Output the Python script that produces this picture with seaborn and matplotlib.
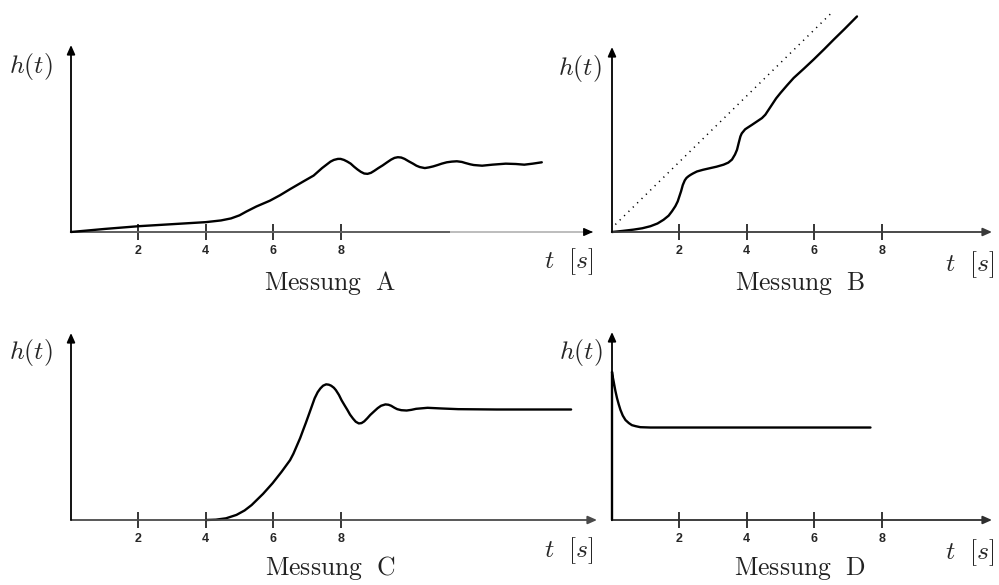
import matplotlib
matplotlib.use("Agg")
import matplotlib.pyplot as plt
import seaborn as sns
import pandas as pd

# ---------------- data ----------------
tick_values = [2, 4, 6, 8]
tick_labels = ["2", "4", "6", "8"]
panel_titles = ["Messung  A", "Messung  B", "Messung  C", "Messung  D"]

a_t = [0.0, 1.0, 2.0, 3.0, 4.0, 4.45, 4.75, 5.0, 5.2, 5.5, 5.9, 6.2, 6.5, 6.9, 7.2,
       7.45, 7.7, 7.8, 7.92, 8.0, 8.1, 8.2, 8.3, 8.4, 8.5, 8.6, 8.7, 8.8, 8.9, 9.0,
       9.12, 9.25, 9.38, 9.5, 9.6, 9.7, 9.8, 9.9, 10.02, 10.15, 10.25, 10.35, 10.5,
       10.62, 10.75, 10.88, 11.0, 11.15, 11.3, 11.45, 11.6, 11.7, 11.85, 11.95, 12.2,
       12.5, 12.9, 13.2, 13.45, 13.7, 13.97]
a_h = [0.00, 0.09, 0.17, 0.23, 0.29, 0.34, 0.40, 0.49, 0.60, 0.75, 0.92, 1.08, 1.26,
       1.49, 1.66, 1.88, 2.07, 2.12, 2.15, 2.15, 2.12, 2.07, 2.01, 1.92, 1.84, 1.77,
       1.72, 1.71, 1.74, 1.80, 1.88, 1.96, 2.05, 2.13, 2.18, 2.20, 2.19, 2.15, 2.08,
       2.01, 1.95, 1.91, 1.88, 1.90, 1.93, 1.97, 2.01, 2.05, 2.07, 2.08, 2.06, 2.03,
       1.99, 1.97, 1.95, 1.98, 2.01, 2.00, 1.98, 2.01, 2.05]

b_t = [0.0, 0.3, 0.64, 0.9, 1.14, 1.35, 1.53, 1.68, 1.78, 1.88, 1.95, 2.0, 2.05, 2.1,
       2.16, 2.21, 2.27, 2.33, 2.4, 2.52, 2.7, 2.92, 3.1, 3.31, 3.45, 3.56, 3.65, 3.71,
       3.76, 3.81, 3.85, 3.9, 3.95, 4.01, 4.15, 4.30, 4.45, 4.55, 4.65, 4.75, 4.87,
       5.0, 5.2, 5.39, 5.7, 5.98, 6.3, 6.58, 6.9, 7.27]
b_h = [0.00, 0.03, 0.07, 0.11, 0.17, 0.25, 0.36, 0.48, 0.61, 0.76, 0.90, 1.05, 1.20,
       1.38, 1.52, 1.59, 1.64, 1.68, 1.72, 1.78, 1.83, 1.88, 1.92, 1.98, 2.04, 2.13,
       2.28, 2.42, 2.62, 2.81, 2.90, 2.96, 3.02, 3.06, 3.15, 3.25, 3.35, 3.45, 3.60,
       3.75, 3.93, 4.09, 4.32, 4.53, 4.81, 5.07, 5.38, 5.66, 5.97, 6.34]
b_ref_t = [0.10, 6.53]
b_ref_h = [0.22, 6.46]

c_t = [4.0, 4.3, 4.6, 4.91, 5.15, 5.36, 5.7, 5.98, 6.25, 6.5, 6.6, 6.7, 6.8, 6.89,
       6.97, 7.05, 7.14, 7.23, 7.32, 7.4, 7.48, 7.57, 7.65, 7.72, 7.8, 7.86, 7.95,
       8.03, 8.12, 8.2, 8.28, 8.37, 8.45, 8.54, 8.62, 8.7, 8.79, 8.88, 9.0, 9.1, 9.2,
       9.33, 9.42, 9.5, 9.6, 9.68, 9.8, 9.96, 10.1, 10.24, 10.58, 11.0, 11.49, 12.63,
       14.84]
c_h = [0.00, 0.01, 0.05, 0.15, 0.28, 0.44, 0.77, 1.08, 1.42, 1.76, 1.95, 2.18, 2.41,
       2.65, 2.86, 3.08, 3.33, 3.58, 3.76, 3.87, 3.95, 3.99, 3.98, 3.95, 3.89, 3.82,
       3.68, 3.52, 3.37, 3.24, 3.10, 2.98, 2.89, 2.84, 2.85, 2.90, 2.99, 3.09, 3.20,
       3.29, 3.36, 3.40, 3.39, 3.36, 3.30, 3.26, 3.23, 3.22, 3.24, 3.27, 3.30, 3.28,
       3.26, 3.25, 3.25]

d_t = [0.0, 0.0, 0.02, 0.05, 0.07, 0.1, 0.15, 0.2, 0.25, 0.32, 0.40, 0.5, 0.59, 0.7,
       0.84, 1.14, 7.67]
d_h = [0.00, 4.36, 4.22, 4.07, 3.96, 3.80, 3.58, 3.40, 3.24, 3.07, 2.94, 2.85, 2.79,
       2.76, 2.73, 2.72, 2.72]

# ---------------- styling / layout ----------------
sns.set_theme(style="white")
plt.rcParams["mathtext.fontset"] = "cm"
plt.rcParams["font.family"] = ["DejaVu Sans"]

W, H = 999, 585
fig = plt.figure(figsize=(W / 100, H / 100), dpi=100)
fig.patch.set_facecolor("white")

PXU_X = 33.7
PXU_Y = 34.0

# (x_left, x_right, y_top, y_axis) in pixels
boxes = [(71, 593, 45, 232), (612, 992, 47, 232), (71, 597, 333, 520), (612, 992, 332, 520)]
xaxis_colors = ["#5e5e5e", "#3a3a3a", "#4a4a4a", "#2e2e2e"]
hlabel_pos = [(31, 67), (580, 69), (31, 352), (581, 352)]
tlabel_pos = [(569, 262), (970, 265), (569, 551), (970, 553)]
title_pos = [(330, 283), (800, 283), (330, 568), (800, 569)]

series = [(a_t, a_h), (b_t, b_h), (c_t, c_h), (d_t, d_h)]
CM = 18.5

for i, (x0, x1, yt, yb) in enumerate(boxes):
    ax = fig.add_axes([x0 / W, 1 - yb / H, (x1 - x0) / W, (yb - yt) / H])
    ax.set_xlim(0, (x1 - x0) / PXU_X)
    ax.set_ylim(0, (yb - yt) / PXU_Y)
    ax.patch.set_alpha(0)
    for s in ax.spines.values():
        s.set_visible(False)
    ax.grid(False)

    # axes with arrows
    if i == 0:
        split = (450 - x0) / (x1 - x0)
        ax.plot([0, split], [0, 0], transform=ax.transAxes, color="#5e5e5e",
                lw=1.4, clip_on=False, solid_capstyle="butt")
        ax.plot([split, 1], [0, 0], transform=ax.transAxes, color="#bdbdbd",
                lw=1.4, clip_on=False, solid_capstyle="butt")
        ax.annotate("", xy=(1, 0), xytext=(0.985, 0), xycoords="axes fraction",
                    arrowprops=dict(arrowstyle="-|>,head_length=0.45,head_width=0.2",
                                    color="black", lw=1.0, shrinkA=0, shrinkB=0))
    else:
        ax.annotate("", xy=(1, 0), xytext=(0, 0), xycoords="axes fraction",
                    arrowprops=dict(arrowstyle="-|>,head_length=0.45,head_width=0.2",
                                    color=xaxis_colors[i], lw=1.3, shrinkA=0, shrinkB=0))
    ax.annotate("", xy=(0, 1), xytext=(0, 0), xycoords="axes fraction",
                arrowprops=dict(arrowstyle="-|>,head_length=0.45,head_width=0.2",
                                color="black", lw=1.3, shrinkA=0, shrinkB=0))

    # curves
    t, h = series[i]
    df = pd.DataFrame({"t": t, "h": h})
    sns.lineplot(data=df, x="t", y="h", ax=ax, color="black", lw=1.7,
                 estimator=None, sort=False, clip_on=False)
    if i == 1:
        dref = pd.DataFrame({"t": b_ref_t, "h": b_ref_h})
        sns.lineplot(data=dref, x="t", y="h", ax=ax, color="black", lw=1.1,
                     estimator=None, sort=False, clip_on=False, linestyle=(0, (0.8, 3.2)))

    ax.set_xlabel("")
    ax.set_ylabel("")
    ax.set_yticks([])
    ax.set_xticks(tick_values)
    ax.set_xticklabels(tick_labels, fontfamily="Liberation Sans", fontweight="bold",
                       fontsize=9)
    ax.tick_params(axis="x", direction="inout", length=11, width=1.1, color="black",
                   pad=4, bottom=True)

    fig.text(hlabel_pos[i][0] / W, 1 - hlabel_pos[i][1] / H, r"$h(t)$", fontsize=CM,
             ha="center", va="center")
    fig.text(tlabel_pos[i][0] / W, 1 - tlabel_pos[i][1] / H, r"$t\ \ [s]$", fontsize=CM,
             ha="center", va="center")
    title = panel_titles[i].replace(" ", r"\ ")
    fig.text(title_pos[i][0] / W, 1 - title_pos[i][1] / H, r"$\mathrm{" + title + "}$",
             fontsize=CM, ha="center", va="center", color="#222222")

fig.savefig("out.png", dpi=100, facecolor="white")
